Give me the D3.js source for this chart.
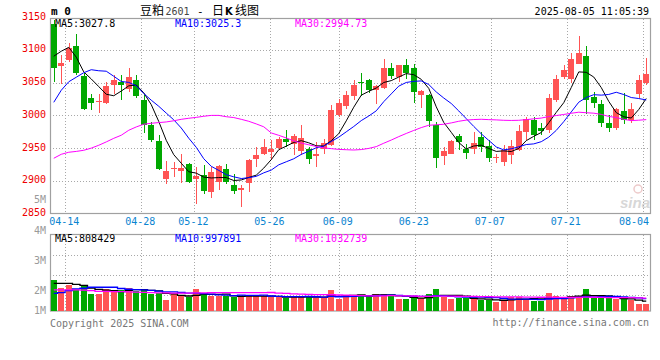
<!DOCTYPE html>
<html><head><meta charset="utf-8">
<script src="https://cdn.jsdelivr.net/npm/d3@7"></script>
<style>body{margin:0;background:#fff}svg{display:block}</style>
</head><body><svg id="c" width="660" height="360"></svg>
<script>
const dates=["04-10","04-11","04-14","04-15","04-16","04-17","04-18","04-21","04-22","04-23","04-24","04-25","04-28","04-29","04-30",
"05-06","05-07","05-08","05-09","05-12","05-13","05-14","05-15","05-16","05-19","05-20","05-21","05-22","05-23","05-26","05-27","05-28","05-29","05-30",
"06-03","06-04","06-05","06-06","06-09","06-10","06-11","06-12","06-13","06-16","06-17","06-18","06-19","06-20","06-23","06-24","06-25","06-26","06-27","06-30",
"07-01","07-02","07-03","07-04","07-07","07-08","07-09","07-10","07-11","07-14","07-15","07-16","07-17","07-18","07-21","07-22","07-23","07-24","07-25","07-28","07-29","07-30","07-31",
"08-01","08-04","08-05"];
const open=[3140,3075.6,3084,3105.7,3060,3026.7,3021,3019,3046,3051,3041,3053.7,3024,2985,2960.5,2902.4,2917.7,2915,2926.4,2903,2908.5,2883,2898,2918.8,2894.3,2885.6,2896,2934,2941.7,2943.7,2950.3,2964.6,2956,2945,2949.3,2938.6,2949.3,2954.4,3000.2,3014,3029.3,3050.5,3053.7,3038.4,3042,3073,3058.8,3076.6,3073,3030.8,3030.8,2985,2938,2941,2968.6,2949.3,2949.3,2967,2952.8,2935,2928.9,2940,2946.7,2974.7,2993.6,2980,2977.3,3023.2,3058.8,3056.3,3078,3090.4,3028.2,3017,2988.5,2980,3006.3,2993.6,3032.3,3049.6];
const high=[3145,3092,3110,3124,3066,3033.4,3032,3051,3062,3061,3073,3061,3031,2990,2969.7,2931,2929,2941.7,2928,2921,2923.8,2921,2925,2926,2911,2894,2934,2951.8,2964.6,2962,2967,2977,2972,2985,2951.8,2959.5,2964.6,3015.5,3025.7,3037,3053.7,3065,3055,3046,3085.4,3080,3077,3085.4,3079,3038.4,3033.4,2990,2951.8,2962,2972,2957,2974.7,2974.7,2962,2941.7,2955.4,2962,2985,2997.6,2998,2988,3033.4,3061.4,3076.6,3096,3121,3105.7,3036,3024.2,3000,3012,3034.3,3019,3061.4,3088.4];
const low=[3051,3048.7,3082,3061,3009,3009,3003,3018,3033,3023,3036,3026,2973,2959.5,2916,2894.8,2905.5,2896,2896,2864,2879.5,2874.4,2885.6,2895,2879.5,2860,2883,2921,2940,2932.5,2946.7,2951.8,2939,2940,2926.4,2921,2941.7,2953,2997,3010,3023,3029,3034,3018,3041,3056,3051,3056,3019,3011.4,2983,2920.3,2923.8,2941,2946.7,2934,2941.7,2944,2928.9,2928,2922.3,2925.3,2945.7,2962,2962,2969.7,2973,3020,3055,3050,3078,3001.7,3011.4,2982.4,2975,2977,2987.5,2988.5,3027.3,3046];
const close=[3073,3080.8,3103,3065,3010.5,3019,3022.5,3044.5,3053.7,3046,3059,3029,2985,2963,2917.7,2914.6,2919.7,2919.7,2898,2907,2884.5,2913,2922.7,2898,2884.5,2888.7,2932.5,2940,2951.8,2949.3,2964.6,2959.5,2968.6,2965,2933,2941.7,2958,3009,3019,3030.8,3046,3049.5,3038.4,3044.5,3073,3060.3,3076.6,3065,3036,3037.4,2991.5,2935.6,2945.7,2960.5,2959.5,2942.6,2958,2951.8,2935.6,2937,2946.7,2952.8,2975.8,2995,2969.7,2976,3027.3,3055.2,3069,3085.4,3095.4,3024.2,3019,2988.5,2980,3009.4,2992.6,3009.4,3053.7,3064];
const volume=[2520000,1890000,2110000,1790000,2110000,1380000,1380000,1790000,1630000,1710000,1890000,1650000,1790000,1380000,1490000,890000,1380000,1220000,1110000,1790000,1380000,1220000,1220000,1220000,1110000,1220000,1280000,1220000,1220000,1110000,1110000,1030000,1220000,1220000,1160000,1030000,1030000,1710000,980000,1300000,1300000,1300000,1220000,1380000,1380000,1220000,980000,980000,1030000,1030000,1380000,1790000,1160000,980000,1030000,1030000,980000,890000,890000,710000,890000,1110000,1160000,980000,840000,840000,1440000,1220000,980000,1220000,1220000,1790000,1030000,1030000,1030000,980000,980000,890000,570000,570000];
// moving-average values for the first days (earlier data not shown)
const ma5Head=[3090.4,3098,3104,3089];
const ma10Head=[3020,3038.4,3051.4,3058.3,3065.2,3069.8,3068.2,3067.5,3059.8];
const ma30Head=[2934.5,2940.6,2943.7,2945,2946.7,2950,2954.4,2959.5,2965,2969.7,2977.3,2982.4,2986.5,2988,2989,2990,2991.8,2994,2995.6,2997,2998.7,3000,3000,2998,2996.7,2994,2991,2987,2982.6];
const vma5Head=[2250000,2250000,2250000,2170000];
const vma10Head=[1440000,1500000,1650000,1800000,1850000,1930000,1930000,1930000,1930000];
const vma30Head=[1720000,1720000,1720000,1720000,1700000,1650000,1600000,1600000,1580000,1570000,1560000,1540000,1520000,1500000,1480000,1470000,1460000,1460000,1460000,1470000,1480000,1490000,1490000,1490000,1500000,1500000,1500000,1500000,1500000];
const priceTicks=[3150,3100,3050,3000,2950,2900,2850];
const dateTicks=["04-14","04-28","05-12","05-26","06-09","06-23","07-07","07-21","08-04"];
const volTickValues=[5,4,3,2,1];
const volTickLabels=["5M","4M","3M","2M","1M"];
const maNames=["MA5","MA10","MA30"];
const priceMAHeader=["3027.8","3025.3","2994.73"];
const volMAHeader=["808429","997891","1032739"];
const maColors=["#000000","#0000ff","#ff00ff"];
const titleParts=["豆粕","2601","-","日","K","线图"];
const stamp="2025-08-05 11:05:39";

const RED="#ff5454", GREEN="#00a800", FRAME="#a0a0a0", GRID="#a8a8a8";
const MONO="'DejaVu Sans Mono', 'Liberation Mono', monospace";
const CJK="'Noto Sans CJK SC', sans-serif";
const svg=d3.select("#c");
const L=50,R=650,T=18.5,B=213.5,VT=234.5,VB=311;
const n=dates.length;

const x=d3.scaleBand().domain(d3.range(n)).range([L,R]).paddingInner(0.2).paddingOuter(0.1);
const cx=i=>x(i)+x.bandwidth()/2;
const xg=d3.scaleLinear().domain([0,n]).range([L,L+n*7.6]);
const y=d3.scaleLinear().domain([2850,3150]).range([213.6,17.2]);
const vy=d3.scaleLinear().domain([0,6e6]).range([VB,VB-6*12.3]);
const vLab=d3.scaleLinear().domain([5,1.33]).range([203.3,314.3]).clamp(true);
const vGrid=d3.scaleLinear().domain([0,4]).range([VT,VT+4*20.2]);

function movAvg(arr,k,head){return arr.map((v,i)=>i<k-1?head[i]:d3.mean(arr.slice(i-k+1,i+1)));}
const priceMA=[movAvg(close,5,ma5Head),movAvg(close,10,ma10Head),movAvg(close,30,ma30Head)];
const volMA=[movAvg(volume,5,vma5Head),movAvg(volume,10,vma10Head),movAvg(volume,30,vma30Head)];

const gx=dateTicks.map(d=>dates.indexOf(d));

// grids
const grid=svg.append("g").attr("stroke",GRID).attr("stroke-dasharray","1,2").attr("shape-rendering","crispEdges");
grid.selectAll(".hp").data(priceTicks.slice(1,-1)).join("line")
  .attr("x1",L).attr("x2",R).attr("y1",d=>Math.round(y(d))+0.5).attr("y2",d=>Math.round(y(d))+0.5);
grid.selectAll(".vp").data(gx).join("line")
  .attr("x1",d=>Math.round(xg(d))+0.5).attr("x2",d=>Math.round(xg(d))+0.5).attr("y1",T).attr("y2",B);
grid.selectAll(".hv").data([1,2,3]).join("line")
  .attr("x1",L).attr("x2",R).attr("y1",d=>Math.round(vGrid(d))+0.5).attr("y2",d=>Math.round(vGrid(d))+0.5);
grid.selectAll(".vv").data(gx).join("line")
  .attr("x1",d=>Math.round(xg(d))+0.5).attr("x2",d=>Math.round(xg(d))+0.5).attr("y1",VT).attr("y2",VB);

// frames
svg.append("rect").attr("x",L+0.5).attr("y",T).attr("width",R-L).attr("height",B-T)
  .attr("fill","none").attr("stroke",FRAME).attr("stroke-width",1.2);
svg.append("rect").attr("x",L+0.5).attr("y",VT).attr("width",R-L).attr("height",VB-VT)
  .attr("fill","none").attr("stroke",FRAME).attr("stroke-width",1.2);

// watermark
const wm=svg.append("g").attr("opacity",0.55);
wm.append("circle").attr("cx",638).attr("cy",189).attr("r",4).attr("fill","none").attr("stroke","#e0a0a0").attr("stroke-width",1.5);
wm.append("text").attr("x",620).attr("y",208).text("sina").attr("font-family","Arial, 'Liberation Sans', sans-serif")
  .attr("font-style","italic").attr("font-weight","bold").attr("font-size",15).attr("fill","#b8b8b8");

// candles
const cg=svg.append("g").attr("shape-rendering","crispEdges");
const col=i=>close[i]>=open[i]?RED:GREEN;
cg.selectAll(".wick").data(d3.range(n)).join("line")
  .attr("x1",i=>Math.round(cx(i))+0.5).attr("x2",i=>Math.round(cx(i))+0.5)
  .attr("y1",i=>y(high[i])).attr("y2",i=>y(low[i])).attr("stroke",col);
cg.selectAll(".body").data(d3.range(n)).join("rect")
  .attr("x",i=>x(i)).attr("width",x.bandwidth())
  .attr("y",i=>y(Math.max(open[i],close[i])))
  .attr("height",i=>Math.max(1,Math.abs(y(open[i])-y(close[i]))))
  .attr("fill",col);

// price MA lines
const line=d3.line().x((v,i)=>cx(i)).y(v=>y(v));
svg.append("g").attr("fill","none").attr("stroke-width",1).selectAll("path").data(priceMA).join("path")
  .attr("d",line).attr("stroke",(d,k)=>maColors[k]);

// volume bars
svg.append("g").attr("shape-rendering","crispEdges").selectAll("rect").data(d3.range(n)).join("rect")
  .attr("x",i=>x(i)).attr("width",x.bandwidth()).attr("y",i=>vy(volume[i])).attr("height",i=>VB-vy(volume[i]))
  .attr("fill",col);
const vline=d3.line().x((v,i)=>cx(i)).y(v=>vy(v)).curve(d3.curveStep);
svg.append("g").attr("fill","none").attr("stroke-width",1.3).selectAll("path").data(volMA).join("path")
  .attr("d",vline).attr("stroke",(d,k)=>maColors[k]);

// axes text
const txt=svg.append("g").attr("font-family",MONO).attr("font-size",10);
txt.selectAll(".pl").data(priceTicks).join("text").attr("x",46).attr("y",d=>y(d)+2.4)
  .attr("text-anchor","end").attr("fill","#ee0000").text(d=>d);
txt.selectAll(".vl").data(volTickValues).join("text").attr("x",46).attr("y",d=>vLab(d))
  .attr("text-anchor","end").attr("fill","#9a9a9a").text((d,k)=>volTickLabels[k]);
txt.selectAll(".dl").data(gx).join("text")
  .attr("x",d=>Math.min(xg(d)-1,649-15)).attr("y",225).attr("text-anchor","middle")
  .attr("fill","#0a84d0").text((d,k)=>dateTicks[k]);

// MA headers
txt.selectAll(".mh").data(maNames).join("text").attr("x",(d,k)=>55+k*120).attr("y",26.5)
  .attr("fill",(d,k)=>maColors[k]).text((d,k)=>d+":"+priceMAHeader[k]);
txt.selectAll(".vh").data(maNames).join("text").attr("x",(d,k)=>55+k*120).attr("y",241.5)
  .attr("fill",(d,k)=>maColors[k]).text((d,k)=>d+":"+volMAHeader[k]);

// header
svg.append("text").attr("x",51).attr("y",15).attr("font-family",MONO).attr("font-size",11).attr("font-weight","bold").text("m 0");
const tStarts=[140,165.5,197,212,225,235];
const tFonts=[CJK,MONO,MONO,CJK,"'DejaVu Sans', sans-serif",CJK];
const tSizes=[12,10,11,12,10,12];
const tWeights=["normal","normal","normal","normal","bold","normal"];
svg.append("g").selectAll("text").data(titleParts).join("text")
  .attr("x",(d,k)=>tStarts[k]).attr("y",15).attr("font-family",(d,k)=>tFonts[k])
  .attr("font-size",(d,k)=>tSizes[k]).attr("font-weight",(d,k)=>tWeights[k])
  .attr("fill",(d,k)=>k===1?"#444":"#000").text(d=>d);
txt.append("text").attr("x",649).attr("y",15).attr("text-anchor","end").attr("fill","#000").text(stamp);
txt.append("text").attr("x",50).attr("y",327).attr("fill","#777").text("Copyright 2025 SINA.COM");
txt.append("text").attr("x",649).attr("y",326).attr("text-anchor","end").attr("fill","#777").text("http://finance.sina.com.cn");
</script></body></html>
